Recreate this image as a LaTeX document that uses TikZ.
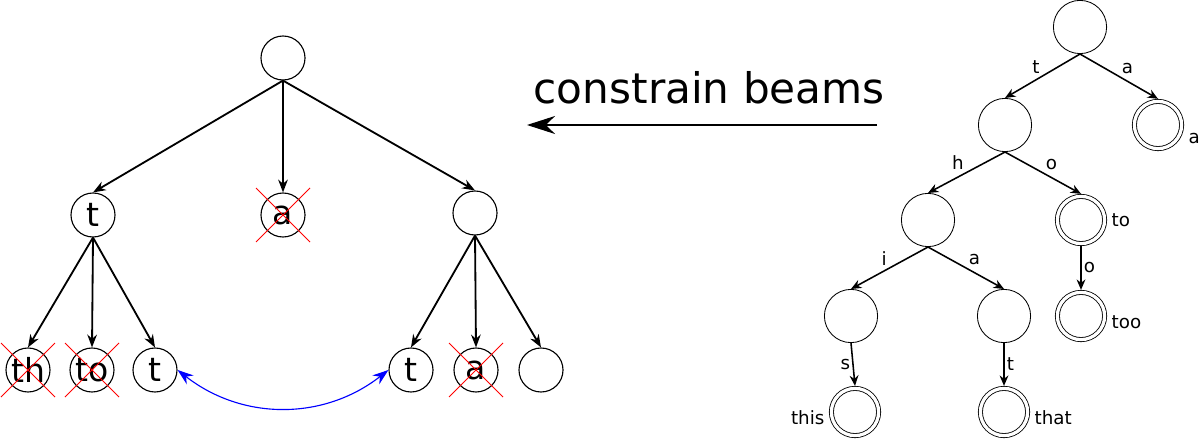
\documentclass[tikz,border=0pt]{standalone}
\usepackage{fontspec}
\setmainfont{DejaVu Sans}
\usepackage{tikz}
\usetikzlibrary{arrows.meta,positioning,calc}
\newcommand{\strikenode}[2][red]{%
  \draw[#1, line width=0.6pt] ($(#2)+(-27,-27)$) -- ($(#2)+(27,27)$);
  \draw[#1, line width=0.6pt] ($(#2)+(-27,27)$) -- ($(#2)+(27,-27)$);}

\begin{document}
\begin{tikzpicture}[x=0.025cm, y=-0.025cm, >={Stealth[length=3.2mm,width=2.4mm]}]
  \tikzset{beam/.style={draw, circle, minimum size=11mm, inner sep=0, line width=0.8pt,
                        font=\fontsize{23.5}{24}\selectfont},
           beamedge/.style={->, line width=1.3pt},
           tstate/.style={draw, circle, minimum size=13.3mm, inner sep=0, line width=0.6pt},
           tfinal/.style={tstate, double, double distance=2.3pt, minimum size=11.8mm,
                          outer sep=1.8pt},
           trieedge/.style={->, line width=1.1pt, >={Stealth[length=2.6mm,width=2.2mm]}},
           arclbl/.style={font=\fontsize{13}{13}\selectfont, inner sep=1.5pt}}
  \useasboundingbox (0,0) rectangle (1200,445);

  % beam search tree (left)
  \node[beam] (root) at (283,58)  {};
  \node[beam] (t)    at (93,215)  {t};
  \node[beam] (a)    at (283,215) {a};
  \node[beam] (r)    at (475,213) {};
  \node[beam] (th)   at (28,370)  {th};
  \node[beam] (to)   at (92,370)  {to};
  \node[beam] (tt)   at (155,370) {t};
  \node[beam] (rt)   at (411,370) {t};
  \node[beam] (ra)   at (476,370) {a};
  \node[beam] (re)   at (541,370) {};

  \foreach \c in {t,a,r}    \draw[beamedge] (root.south) -- (\c.north);
  \foreach \c in {th,to,tt} \draw[beamedge] (t.south) -- (\c.north);
  \foreach \c in {rt,ra,re} \draw[beamedge] (r.south) -- (\c.north);

  % pruned hypotheses
  \strikenode{a}
  \strikenode{th}
  \strikenode{to}
  \strikenode{ra}

  \draw[<->, blue, line width=0.8pt, >={Stealth[length=4mm,width=2.8mm]}]
       (tt.east) to[bend right=38] (rt.west);

  % trie of allowed words (right)
  \coordinate (cbR) at (877,125);
  \coordinate (cbL) at (527,125);
  \draw[->, line width=0.8pt, >={Stealth[length=7mm,width=4.5mm]}] (cbR) --
       node[above=5.2mm, xshift=1.8mm, inner sep=0, font=\fontsize{30}{30}\selectfont] (cb)
       {constrain beams} (cbL);

  \node[tstate] (q0)    at (1080,27)  {};
  \node[tstate] (qt)    at (1005,125) {};
  \node[tfinal, label={[arclbl, yshift=-3.3mm, label distance=1.5pt]east:a}] (qa) at (1158,125) {};
  \node[tstate] (qth)   at (928,220)  {};
  \node[tfinal, label={[arclbl, label distance=1.5pt]east:to}] (qto) at (1081,220) {};
  \node[tstate] (qthi)  at (851,316)  {};
  \node[tstate] (qtha)  at (1004,316) {};
  \node[tfinal, label={[arclbl, yshift=-1.5mm, label distance=1.5pt]east:too}] (qtoo) at (1081,316) {};
  \node[tfinal, label={[arclbl, yshift=-1.5mm, label distance=1.5pt]west:this}] (qthis) at (855,412) {};
  \node[tfinal, label={[arclbl, yshift=-1.5mm, label distance=1.5pt]east:that}] (qthat) at (1004,412) {};

  \draw[trieedge] (q0.south)   -- node[arclbl, above left]  {t} (qt.north);
  \draw[trieedge] (q0.south)   -- node[arclbl, above right] {a} (qa.north);
  \draw[trieedge] (qt.south)   -- node[arclbl, above left]  {h} (qth.north);
  \draw[trieedge] (qt.south)   -- node[arclbl, above right] {o} (qto.north);
  \draw[trieedge] (qth.south)  -- node[arclbl, above left]  {i} (qthi.north);
  \draw[trieedge] (qth.south)  -- node[arclbl, above right] {a} (qtha.north);
  \draw[trieedge] (qto.south)  -- node[arclbl, right]       {o} (qtoo.north);
  \draw[trieedge] (qthi.south) -- node[arclbl, left]        {s} (qthis.north);
  \draw[trieedge] (qtha.south) -- node[arclbl, right]       {t} (qthat.north);
\end{tikzpicture}
\end{document}
